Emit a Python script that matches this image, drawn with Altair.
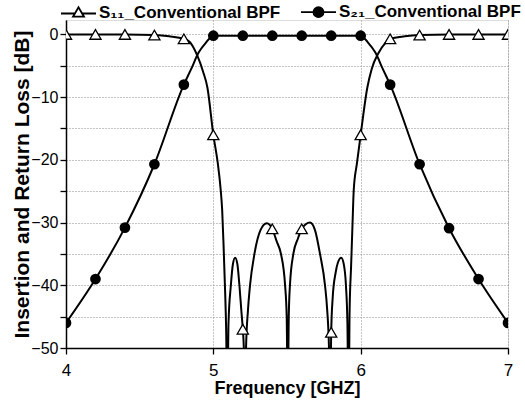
import altair as alt
import pandas as pd

# ---- data ----
# S11 (return loss) curve, dense points
s11_f = [4.0, 4.2, 4.4, 4.6, 4.7, 4.8, 4.84, 4.89, 4.93, 4.96, 5.0, 5.03, 5.05, 5.06, 5.07,
         5.08, 5.087, 5.095,
         5.103, 5.119, 5.133, 5.148, 5.163, 5.177, 5.19, 5.2, 5.207, 5.215,
         5.222, 5.235, 5.249, 5.279, 5.32, 5.363, 5.4, 5.43, 5.459, 5.487, 5.498, 5.505,
         5.512, 5.52, 5.543, 5.575, 5.6, 5.656, 5.69, 5.724, 5.758, 5.773, 5.785, 5.793,
         5.8, 5.81, 5.83, 5.845, 5.868, 5.885, 5.9, 5.91, 5.918,
         5.925, 5.935, 5.945, 5.953, 5.975, 6.0, 6.045, 6.075, 6.12, 6.17, 6.2, 6.3, 6.4,
         6.6, 6.8, 7.0]
s11_v = [0, 0, 0, -0.1, -0.3, -0.7, -1.2, -3.3, -5.9, -8.5, -16, -20.5, -24.8, -28, -34,
         -41, -47, -60,
         -46, -40, -36.6, -35.6, -36.6, -40, -44, -47, -50, -60,
         -50, -44, -40, -35, -31.2, -30.1, -31, -33, -35, -40, -45, -60,
         -45, -40, -35, -32.5, -31, -30, -31.2, -35, -40, -44, -50, -60,
         -47.5, -42, -38, -36.4, -35.6, -36.6, -40, -46, -60,
         -44, -37, -30, -24.8, -20.5, -16, -8.5, -5.5, -3.0, -1.3, -0.7, -0.3, -0.1,
         0, 0, 0]

# S21 (insertion loss) curve
s21_f = [4.0, 4.2, 4.4, 4.6, 4.8, 4.85, 4.9, 4.95, 5.0, 5.2, 5.4, 5.6, 5.8, 6.0,
         6.05, 6.1, 6.15, 6.2, 6.4, 6.6, 6.8, 7.0]
s21_v = [-46, -39, -30.8, -20.7, -8, -5.5, -2.9, -1.3, -0.2, -0.2, -0.2, -0.2, -0.2, -0.2,
         -1.3, -2.9, -5.5, -8, -20.7, -30.9, -39, -46]

# marker positions (every 0.2 GHz)
mark_f = [4.0, 4.2, 4.4, 4.6, 4.8, 5.0, 5.2, 5.4, 5.6, 5.8, 6.0, 6.2, 6.4, 6.6, 6.8, 7.0]
s11_mark_v = [0, 0, 0, -0.1, -0.7, -16, -47, -31, -31, -47.5, -16, -0.7, -0.1, 0, 0, 0]
s21_mark_v = [-46, -39, -30.8, -20.7, -8, -0.2, -0.2, -0.2, -0.2, -0.2, -0.2, -8, -20.7,
              -30.9, -39, -46]

legend_labels = ["S\u2081\u2081_Conventional BPF", "S\u2082\u2081_Conventional BPF"]

x_ticks = [4, 4.5, 5, 5.5, 6, 6.5, 7]
y_ticks = [-50, -45, -40, -35, -30, -25, -20, -15, -10, -5, 0]

# ---- tables ----
df11 = pd.DataFrame({"f": s11_f, "v": s11_v})
df21 = pd.DataFrame({"f": s21_f, "v": s21_v})
dm11 = pd.DataFrame({"f": mark_f, "v": s11_mark_v})
dm21 = pd.DataFrame({"f": mark_f, "v": s21_mark_v})
dleg = pd.DataFrame({"series": legend_labels, "f": [4.0, 4.0], "v": [0.0, 0.0]})

FONT = "Liberation Sans"

xscale = alt.Scale(domain=[4, 7], nice=False, zero=False)
yscale = alt.Scale(domain=[-50, 2.3], nice=False, zero=False)

xaxis = alt.Axis(values=x_ticks, format="d", labelFlush=False,
                 labelExpr="datum.value % 1 == 0 ? datum.label : ''",
                 title="Frequency [GHZ]", titleFont=FONT, titleFontSize=18,
                 titleFontWeight="bold", titleColor="black", titlePadding=1,
                 labelFont=FONT, labelFontSize=17, labelColor="black", labelPadding=8,
                 tickColor="black", tickSize=6, tickWidth=1.3,
                 domainColor="black", domainWidth=1.5,
                 grid=True, gridColor="#8a8a8a", gridDash=[1, 2], gridWidth=1)
yaxis = alt.Axis(values=y_ticks, labelFlush=False,
                 labelExpr="datum.value % 10 == 0 ? datum.label : ''",
                 title="Insertion and Return Loss [dB]", titleFont=FONT, titleFontSize=21,
                 titleFontWeight="bold", titleColor="black", titlePadding=-2,
                 labelFont=FONT, labelFontSize=16, labelColor="black", labelPadding=2,
                 tickColor="black", tickSize=6, tickWidth=1.3,
                 domainColor="black", domainWidth=1.5,
                 grid=True, gridColor="#8a8a8a", gridDash=[1, 2], gridWidth=1)

X = alt.X("f:Q", scale=xscale, axis=xaxis)
Y = alt.Y("v:Q", scale=yscale, axis=yaxis)

line11 = alt.Chart(df11).mark_line(color="black", strokeWidth=2, interpolate="monotone",
                                   clip=True).encode(x=X, y=Y)
line21 = alt.Chart(df21).mark_line(color="black", strokeWidth=2, interpolate="monotone",
                                   clip=True).encode(x=X, y=Y)
pts11 = alt.Chart(dm11).mark_point(shape="triangle-up", filled=True, fill="white",
                                   stroke="black", strokeWidth=1.3, size=125, opacity=1,
                                   clip=True).encode(x=X, y=Y)
pts21 = alt.Chart(dm21).mark_point(shape="circle", filled=True, color="black", size=115,
                                   opacity=1, clip=True).encode(x=X, y=Y)

tri_path = ("M-1.75,0.1H-0.34M0.34,0.1H1.75"
            "M-0.55,0.42L0,-0.52L0.55,0.42Z")
circ_path = ("M-1.75,0H1.75"
             "M-0.5,0A0.5,0.5 0 1,0 0.5,0A0.5,0.5 0 1,0 -0.5,0Z")

leg = alt.Legend(title=None, orient="none", legendX=1.5, legendY=-19,
                 direction="horizontal", symbolSize=400, symbolStrokeWidth=1.8,
                 symbolStrokeColor="black", labelFont=FONT, labelFontSize=17,
                 labelFontWeight="bold", labelColor="black", labelOffset=9.5,
                 labelLimit=400, columnPadding=16, padding=0)

legend_layer = alt.Chart(dleg).transform_filter("false").mark_point(
    size=400, opacity=1, strokeWidth=1.8).encode(
    x=X, y=Y,
    shape=alt.Shape("series:N", scale=alt.Scale(domain=legend_labels,
                                                range=[tri_path, circ_path]), legend=leg),
    fill=alt.Fill("series:N", scale=alt.Scale(domain=legend_labels,
                                              range=["white", "black"]), legend=leg),
    stroke=alt.Stroke("series:N", scale=alt.Scale(domain=legend_labels,
                                                  range=["black", "black"]), legend=leg),
)

chart = alt.layer(line11, line21, pts11, pts21, legend_layer).properties(
    width=442, height=328,
    padding={"left": 66, "top": 20, "right": 17, "bottom": 67},
    autosize=alt.AutoSizeParams(type="none"),
).configure_view(stroke=None).configure(background="white")

chart.save("out.html", embed_options={"renderer": "svg", "actions": False})
